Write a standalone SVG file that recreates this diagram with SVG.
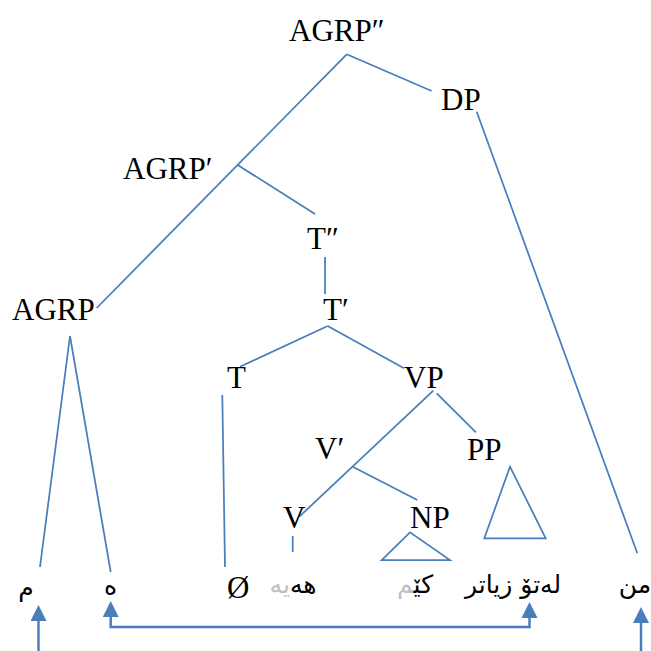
<svg xmlns="http://www.w3.org/2000/svg" width="651" height="651" viewBox="0 0 651 651">
<defs>
<style>
.lbl{font-family:"Liberation Serif","Times New Roman",serif;font-size:31px;fill:#000}
.ar{font-family:"DejaVu Sans","Noto Sans",sans-serif;font-size:25px;fill:#000;text-anchor:middle}
.gr{fill:#BFBFBF}
.tree{stroke:#4A7EBB;stroke-width:1.75;fill:none}
.arr{stroke:#4A7EBB;stroke-width:2.5;fill:none}
</style>
<marker id="ah" markerUnits="userSpaceOnUse" markerWidth="16" markerHeight="16" refX="0" refY="7.5" orient="auto-start-reverse" viewBox="0 0 15 15">
<path d="M0,0 L15,7.5 L0,15 Z" fill="#4A7EBB"/>
</marker>
</defs>
<rect width="651" height="651" fill="#fff"/>
<g id="connectors">
<line class="tree" x1="346.7" y1="54.3" x2="431.7" y2="91"/>
<line class="tree" x1="346.7" y1="54.3" x2="96.7" y2="308"/>
<line class="tree" x1="237.7" y1="165" x2="315" y2="214"/>
<line class="tree" x1="325" y1="257" x2="325" y2="294"/>
<line class="tree" x1="327.7" y1="326" x2="240" y2="366.7"/>
<line class="tree" x1="327.7" y1="326" x2="404" y2="368.3"/>
<line class="tree" x1="433.3" y1="390.7" x2="299.3" y2="516.7"/>
<line class="tree" x1="352.7" y1="466.7" x2="417.3" y2="500"/>
<line class="tree" x1="436.7" y1="393.3" x2="476" y2="432.3"/>
<line class="tree" x1="476.7" y1="111.7" x2="637.3" y2="553.3"/>
<polyline class="tree" points="40,567 70,336 110.7,572"/>
<line class="tree" x1="222.3" y1="395" x2="225" y2="567"/>
<line class="tree" x1="292.7" y1="536" x2="292.7" y2="552"/>
<polygon class="tree" points="410,532.3 381.7,560 450,560"/>
<polygon class="tree" points="510,466.7 484.3,538.3 545.7,538.3"/>
<line class="arr" x1="38.5" y1="651" x2="38.5" y2="621" marker-end="url(#ah)"/>
<path class="arr" d="M110.7,617 L110.7,627 L529.5,627 L529.5,618" marker-start="url(#ah)" marker-end="url(#ah)"/>
<line class="arr" x1="641" y1="651" x2="641" y2="623" marker-end="url(#ah)"/>
</g>
<g id="agrp2"><text class="lbl" x="289" y="41">AGRP″</text></g>
<g id="dp"><text class="lbl" x="441" y="110">DP</text></g>
<g id="agrp1"><text class="lbl" x="123" y="179">AGRP′</text></g>
<g id="t2"><text class="lbl" x="307" y="249">T″</text></g>
<g id="t1"><text class="lbl" x="323" y="320">T′</text></g>
<g id="agrp"><text class="lbl" x="12" y="320">AGRP</text></g>
<g id="t"><text class="lbl" x="227" y="388">T</text></g>
<g id="vp"><text class="lbl" x="404" y="388">VP</text></g>
<g id="v1"><text class="lbl" x="315" y="459">V′</text></g>
<g id="pp"><text class="lbl" x="467" y="460">PP</text></g>
<g id="v"><text class="lbl" x="283" y="528">V</text></g>
<g id="np"><text class="lbl" x="410" y="528">NP</text></g>
<g id="null"><text class="lbl" x="227" y="598">Ø</text></g>
<g id="w-m"><text class="ar" x="26" y="596">م</text></g>
<g id="w-e"><text class="ar" x="110.5" y="595">ە</text></g>
<g id="w-heye"><text class="ar" x="293" y="593">هە<tspan class="gr">یە</tspan></text></g>
<g id="w-kem"><text class="ar" x="415" y="593">کێ<tspan class="gr">م</tspan></text></g>
<g id="w-letoziyatir"><text class="ar" x="513" y="593">لەتۆ زیاتر</text></g>
<g id="w-min"><text class="ar" x="635" y="593">من</text></g>
</svg>
